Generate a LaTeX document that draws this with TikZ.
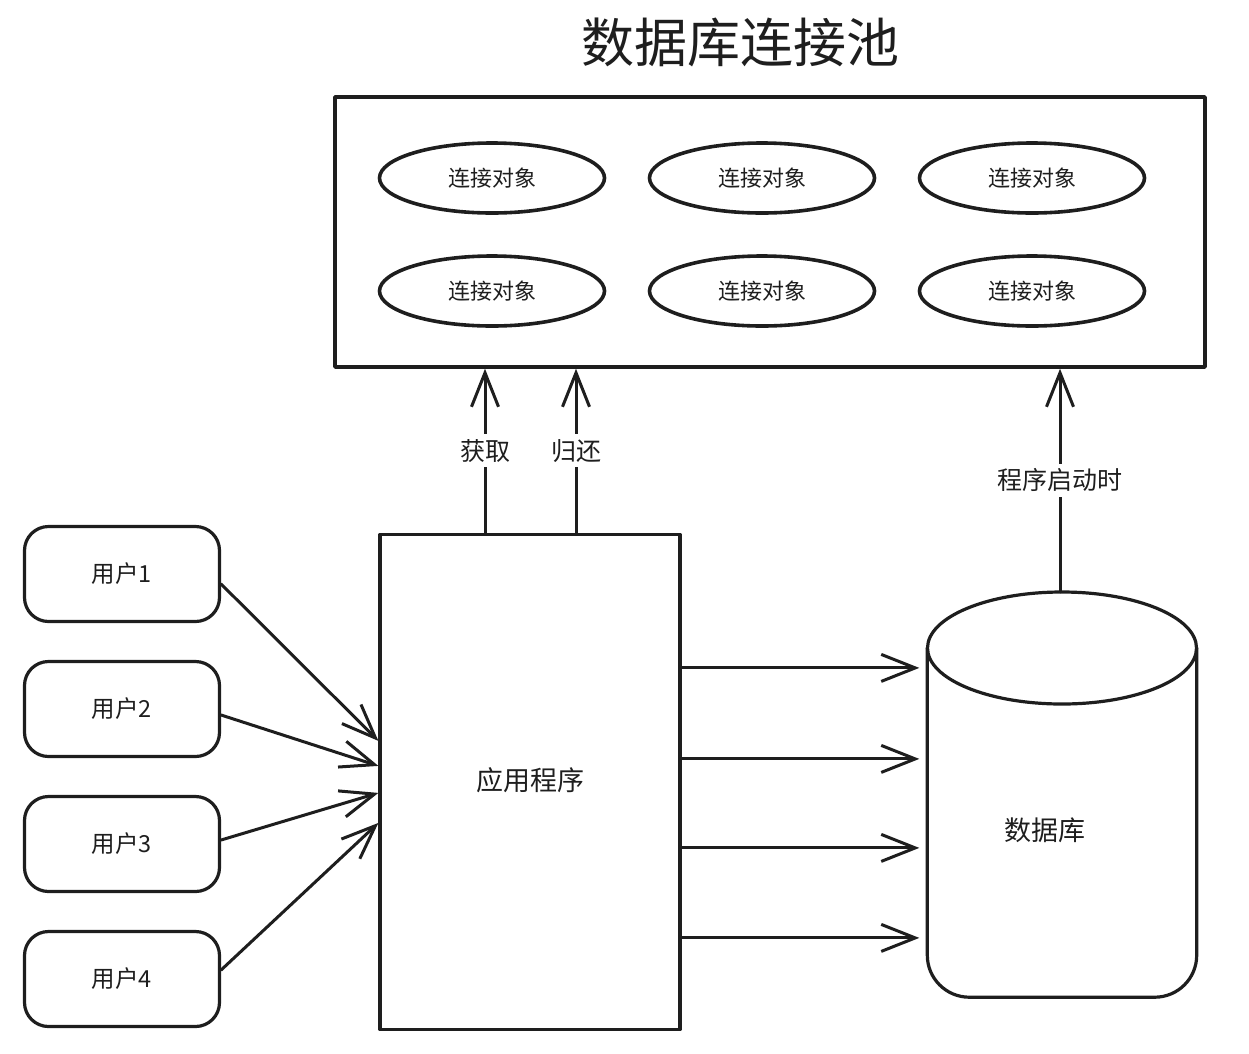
\documentclass[tikz,border=0pt]{standalone}
\usepackage{fontspec}
\setmainfont{Noto Sans CJK SC}
\usetikzlibrary{arrows.meta,shapes.geometric}
\definecolor{ink}{HTML}{1E1E1E}
\begin{document}
\begin{tikzpicture}[x=1pt,y=-1pt,line join=round,line cap=round,
  pool/.style={draw=ink,line width=3.4pt,minimum width=870pt,minimum height=270pt,inner sep=0pt},
  connobj/.style={ellipse,draw=ink,line width=3.6pt,minimum width=225pt,minimum height=70pt,inner sep=0pt,
    text=ink,font=\fontsize{22}{22}\selectfont},
  userbox/.style={draw=ink,line width=3.2pt,rounded corners=24pt,minimum width=195pt,minimum height=95pt,
    text=ink,font=\fontsize{23.5}{23.5}\selectfont},
  appbox/.style={draw=ink,line width=3.2pt,minimum width=300pt,minimum height=495pt,inner sep=0pt},
  flow/.style={draw=ink,line width=3pt,-{Straight Barb[length=34pt,width=27pt,line width=3pt]}},
  lbl/.style={fill=white,inner sep=5pt,text=ink,font=\fontsize{25}{25}\selectfont},
  txt/.style={text=ink,font=\fontsize{27}{27}\selectfont}
]
\useasboundingbox (0,0) rectangle (1249,1053);

% title
\node[text=ink,font=\fontsize{53}{53}\selectfont] (title) at (740,42) {数据库连接池};

% connection pool with its six connection objects
\node[pool] (pool) at (770,232) {};
\node[connobj] (c1) at (492,178) {连接对象};
\node[connobj] (c2) at (762,178) {连接对象};
\node[connobj] (c3) at (1032,178) {连接对象};
\node[connobj] (c4) at (492,291) {连接对象};
\node[connobj] (c5) at (762,291) {连接对象};
\node[connobj] (c6) at (1032,291) {连接对象};

% application
\node[appbox] (app) at (530,782) {};
\node[txt] (apptext) at (530,780) {应用程序};

% users
\node[userbox] (u1) at (122,574) {用户1};
\node[userbox] (u2) at (122,709) {用户2};
\node[userbox] (u3) at (122,844) {用户3};
\node[userbox] (u4) at (122,979) {用户4};

% database cylinder
\node[minimum width=269pt,minimum height=405pt,inner sep=0pt] (db) at (1062,794.5) {};
\draw[ink,line width=3.2pt,rounded corners=42pt]
  (db.west |- 0,648) -- (db.south west) -- (db.south east) -- (db.east |- 0,648);
\draw[ink,line width=3.2pt] (1062,648) ellipse [x radius=134.5pt,y radius=56pt];
\node[txt] (dbtext) at (1045,830) {数据库};

% users to application
\draw[flow] ([yshift=-10pt]u1.east) -- ([yshift=-208pt]app.north west);
\draw[flow] ([yshift=-6pt]u2.east) -- ([yshift=-233pt]app.north west);
\draw[flow] ([yshift=4pt]u3.east) -- ([yshift=-260pt]app.north west);
\draw[flow] ([yshift=9pt]u4.east) -- ([yshift=-290pt]app.north west);

% application to database
\foreach \dy in {135,226,315,405}{
  \draw[flow,shorten >=8pt] ([yshift=-\dy pt]app.north east) -- ([yshift=-\dy pt]app.north east -| db.west);
}

% borrowing and returning connections
\draw[flow] ([xshift=-45pt]app.north) -- ([xshift=-45pt]app.north |- pool.south) node[lbl,midway] {获取};
\draw[flow] ([xshift=46pt]app.north) -- ([xshift=46pt]app.north |- pool.south) node[lbl,midway] {归还};

% pool filled at startup
\draw[flow] ([xshift=-2pt]db.north) -- ([xshift=-2pt]db.north |- pool.south) node[lbl,midway] {程序启动时};
\end{tikzpicture}
\end{document}
